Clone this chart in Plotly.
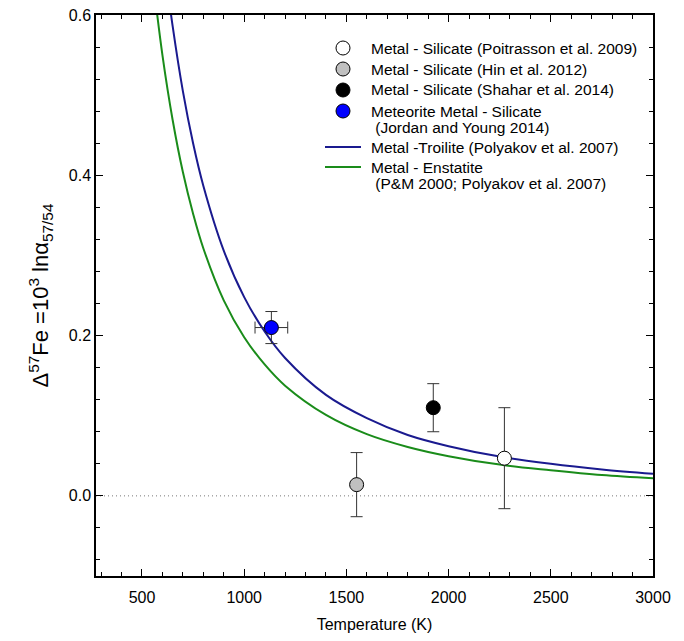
import plotly.graph_objects as go

# Equilibrium fractionation curves, temperature (K) vs 10^3 ln(alpha 57/54)
troilite_T = [620, 650, 700, 750, 800, 900, 1000, 1100, 1200, 1400, 1600,
              1800, 2000, 2250, 2500, 2750, 3000]
troilite_d = [0.644, 0.586, 0.505, 0.440, 0.387, 0.306, 0.248, 0.205, 0.172,
              0.126, 0.097, 0.076, 0.062, 0.049, 0.040, 0.033, 0.0275]

enstatite_T = [560, 600, 650, 700, 750, 800, 900, 1000, 1100, 1200, 1400,
               1600, 1800, 2000, 2250, 2500, 2750, 3000]
enstatite_d = [0.631, 0.550, 0.469, 0.404, 0.352, 0.309, 0.244, 0.198, 0.164,
               0.1375, 0.101, 0.077, 0.061, 0.0495, 0.039, 0.032, 0.026, 0.022]

# Measured metal-silicate fractionations
poitrasson_T, poitrasson_d, poitrasson_err = [2273], [0.047], [0.063]
hin_T, hin_d, hin_err = [1550], [0.014], [0.040]
shahar_T, shahar_d, shahar_err = [1925], [0.110], [0.030]
jordan_T, jordan_d, jordan_err, jordan_Terr = [1133], [0.210], [0.020], [80]

x_ticks = [500, 1000, 1500, 2000, 2500, 3000]
y_ticks = [0.0, 0.2, 0.4, 0.6]

FONT = "Liberation Sans, Arial, sans-serif"
ERR = dict(type="data", visible=True, color="#333333", thickness=1, width=6)
BLUE_LINE = "#1a1a8f"
GREEN_LINE = "#1a8c1a"

W, H = 684, 641
ML, MR, MT, MB = 96, 31, 15, 65
PW, PH = W - ML - MR, H - MT - MB

fig = go.Figure()

# zero reference line
fig.add_trace(go.Scatter(x=[275, 3000], y=[0, 0], mode="lines",
                         line=dict(color="#777777", width=1, dash="1px,3px"),
                         showlegend=False, hoverinfo="skip"))

fig.add_trace(go.Scatter(x=troilite_T, y=troilite_d, mode="lines",
                         line=dict(color=BLUE_LINE, width=2, shape="spline"),
                         showlegend=False))
fig.add_trace(go.Scatter(x=enstatite_T, y=enstatite_d, mode="lines",
                         line=dict(color=GREEN_LINE, width=2, shape="spline"),
                         showlegend=False))

def point(T, d, err, fill, terr=None):
    kw = {}
    if terr is not None:
        kw["error_x"] = dict(ERR, array=terr)
    fig.add_trace(go.Scatter(
        x=T, y=d, mode="markers", showlegend=False,
        error_y=dict(ERR, array=err),
        marker=dict(size=14, color=fill, line=dict(color="#000000", width=1)),
        **kw))

point(poitrasson_T, poitrasson_d, poitrasson_err, "#ffffff")
point(hin_T, hin_d, hin_err, "#c0c0c0")
point(shahar_T, shahar_d, shahar_err, "#000000")
point(jordan_T, jordan_d, jordan_err, "#0000ff", terr=jordan_Terr)

# ---- legend, laid out in pixel units inside the plot area ----
def px(x):
    return (x - ML) / PW

def py(y):
    return (H - MB - y) / PH

legend_rows = [
    # (kind, colour, row centre y, text lines)
    ("marker", "#ffffff", 48, ["Metal - Silicate (Poitrasson et al. 2009)"]),
    ("marker", "#c0c0c0", 69, ["Metal - Silicate (Hin et al. 2012)"]),
    ("marker", "#000000", 90, ["Metal - Silicate (Shahar et al. 2014)"]),
    ("marker", "#0000ff", 111, ["Meteorite Metal - Silicate",
                                " (Jordan and Young 2014)"]),
    ("line", BLUE_LINE, 147, ["Metal -Troilite (Polyakov et al. 2007)"]),
    ("line", GREEN_LINE, 167, ["Metal - Enstatite",
                               " (P&M 2000; Polyakov et al. 2007)"]),
]
SYM_X, TEXT_X, LINE_STEP = 343, 369, 16.5

for kind, colour, yc, lines in legend_rows:
    if kind == "marker":
        fig.add_shape(type="circle", xref="paper", yref="paper",
                      xsizemode="pixel", ysizemode="pixel",
                      xanchor=px(SYM_X), yanchor=py(yc),
                      x0=-7, x1=7, y0=-7, y1=7,
                      fillcolor=colour, line=dict(color="#000000", width=1))
    else:
        fig.add_shape(type="line", xref="paper", yref="paper",
                      x0=px(325), x1=px(361), y0=py(yc), y1=py(yc),
                      line=dict(color=colour, width=2))
    for i, t in enumerate(lines):
        fig.add_annotation(text=t.replace(" ", "\u00a0", 1) if t.startswith(" ") else t,
                           xref="paper", yref="paper",
                           x=px(TEXT_X), y=py(yc + i * LINE_STEP),
                           xanchor="left", yanchor="middle", showarrow=False,
                           font=dict(family=FONT, size=15.5, color="#000000"))

axis_common = dict(showline=True, linecolor="#000000", linewidth=1.5,
                   mirror="ticks", ticks="inside", ticklen=7, tickwidth=1,
                   tickcolor="#000000", showgrid=False, zeroline=False,
                   automargin=False,
                   tickfont=dict(family=FONT, size=16, color="#000000"))

fig.update_xaxes(range=[275, 3000], tickvals=x_ticks,
                 ticktext=[str(v) for v in x_ticks],
                 ticklabelstandoff=6,
                 minor=dict(dtick=100, tick0=0, ticks="inside", ticklen=4,
                            tickcolor="#000000"),
                 title=dict(text="Temperature (K)", standoff=14,
                            font=dict(family=FONT, size=16, color="#000000")),
                 **axis_common)
fig.update_yaxes(range=[-0.1, 0.6], tickvals=y_ticks,
                 ticktext=[f"{v:.1f}" for v in y_ticks],
                 minor=dict(dtick=0.04, tick0=0, ticks="inside", ticklen=4,
                            tickcolor="#000000"),
                 title=dict(text="Δ<sup>57</sup>Fe =10<sup>3</sup> lnα<sub>57/54</sub>",
                            standoff=14,
                            font=dict(family=FONT, size=22, color="#000000")),
                 **axis_common)

fig.update_layout(
    width=W, height=H,
    margin=dict(l=ML, r=MR, t=MT, b=MB),
    plot_bgcolor="#ffffff", paper_bgcolor="#ffffff",
    font=dict(family=FONT, size=15, color="#000000"),
    showlegend=False,
)

fig.write_html("out.html")
